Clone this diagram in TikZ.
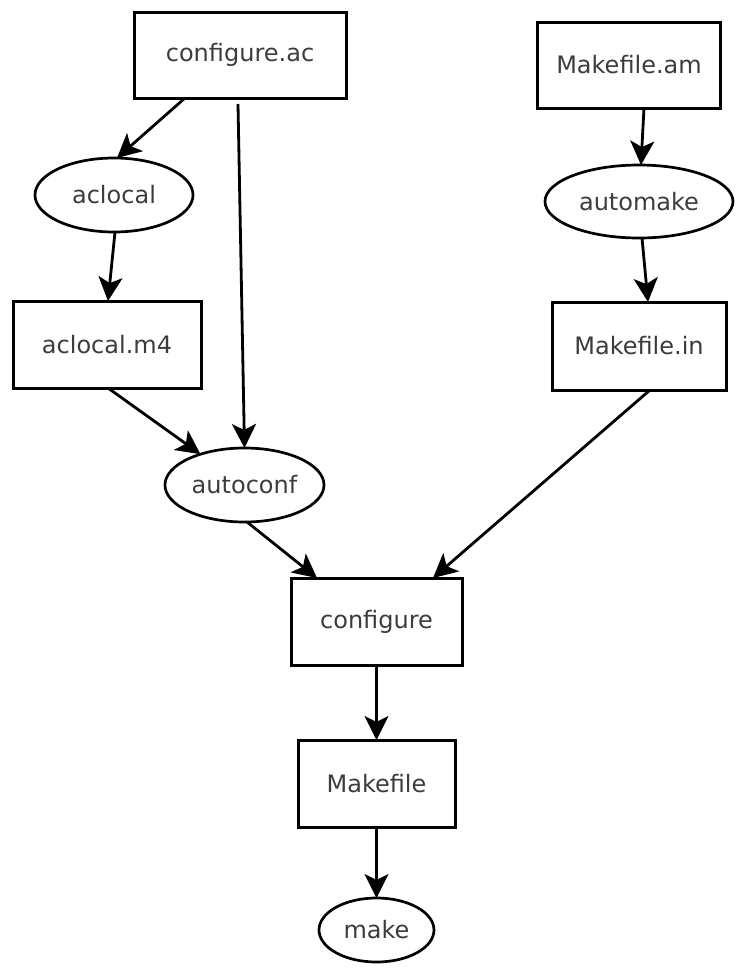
\documentclass[tikz,border=0pt]{standalone}
\usepackage{fontspec}
\setmainfont{DejaVu Sans}
\usetikzlibrary{shapes.geometric,arrows.meta}
\definecolor{labelgray}{RGB}{60,60,60}
\tikzset{
  filebox/.style={draw, rectangle, line width=3pt, outer sep=0pt, inner sep=0pt,
    text=labelgray, font=\fontsize{24}{28}\selectfont},
  toolnode/.style={draw, ellipse, line width=2.7pt, outer sep=0pt, inner sep=0pt,
    text=labelgray, font=\fontsize{24}{28}\selectfont},
  flow/.style={line width=2.8pt, -{Stealth[length=24pt,width=24pt,inset=6pt]}}
}
\begin{document}
\begin{tikzpicture}[x=1pt,y=-1pt]
  \useasboundingbox (0,0) rectangle (739,970);

  % input files and tools
  \node[filebox, minimum width=212pt, minimum height=86pt] (cfgac) at (240,55) {configure.ac};
  \node[filebox, minimum width=183pt, minimum height=86pt] (mkam) at (629,65) {Makefile.am};
  \node[toolnode, minimum width=158pt, minimum height=74pt] (aclocal) at (114,195) {aclocal};
  \node[toolnode, minimum width=188pt, minimum height=73pt] (automake) at (639,201.5) {automake};
  \node[filebox, minimum width=188pt, minimum height=87pt] (aclocalm4) at (107,344.5) {aclocal.m4};
  \node[filebox, minimum width=174pt, minimum height=88pt] (mkin) at (639,346) {Makefile.in};
  \node[toolnode, minimum width=159pt, minimum height=74pt] (autoconf) at (244.5,485) {autoconf};
  \node[filebox, minimum width=171pt, minimum height=87pt] (configure) at (376.5,621.5) {configure};
  \node[filebox, minimum width=157pt, minimum height=87pt] (makefile) at (376.5,783.5) {Makefile};
  \node[toolnode, minimum width=115pt, minimum height=64pt] (make) at (376.5,930) {make};

  % autoconf side
  \draw[flow] ([xshift=-55pt]cfgac.south) -- ([xshift=3pt]aclocal.north);
  \draw[flow] ([xshift=-2pt,yshift=-6pt]cfgac.south) -- (autoconf.north);
  \draw[flow] ([xshift=1pt]aclocal.south) -- ([xshift=1pt]aclocalm4.north);
  \draw[flow] ([xshift=1pt]aclocalm4.south) -- (autoconf.145);
  \draw[flow] ([xshift=2.5pt]autoconf.south) -- ([xshift=-59.5pt]configure.north);

  % automake side
  \draw[flow] ([xshift=15pt]mkam.south) -- ([xshift=2pt]automake.north);
  \draw[flow] ([xshift=3pt]automake.south) -- ([xshift=9pt]mkin.north);
  \draw[flow] ([xshift=11pt]mkin.south) -- ([xshift=56.5pt]configure.north);

  % build
  \draw[flow] (configure.south) -- (makefile.north);
  \draw[flow] (makefile.south) -- (make.north);
\end{tikzpicture}
\end{document}
